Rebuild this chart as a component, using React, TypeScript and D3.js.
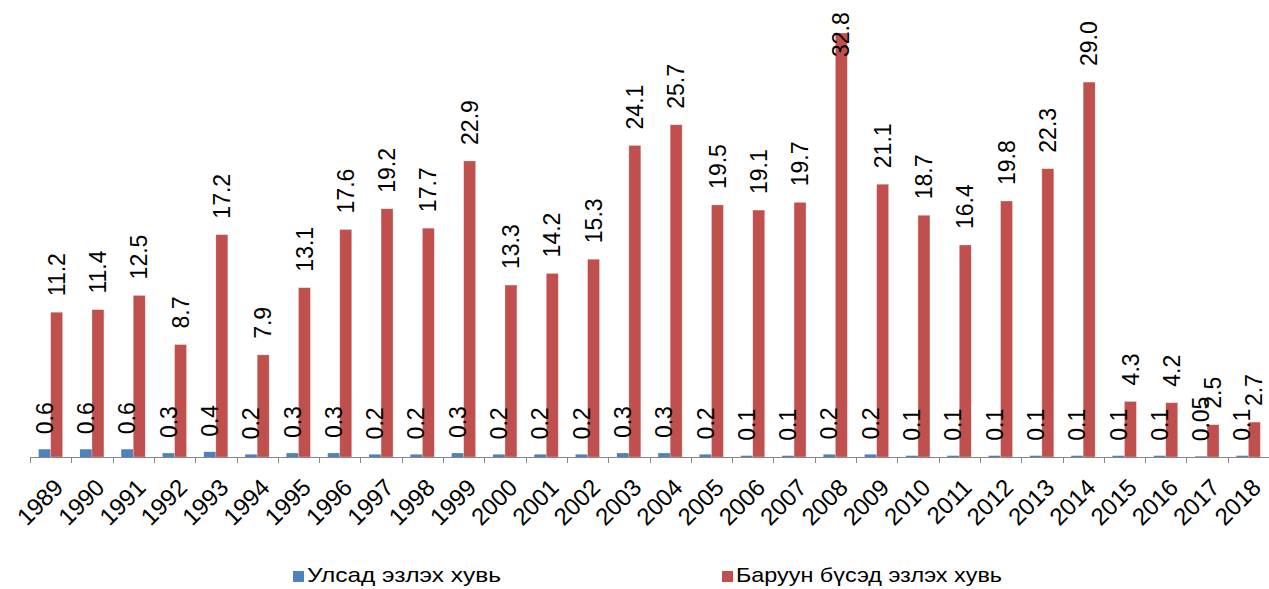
import * as d3 from "d3";
import { useEffect, useRef } from "react";

const years = [
  "1989", "1990", "1991", "1992", "1993", "1994", "1995", "1996", "1997", "1998",
  "1999", "2000", "2001", "2002", "2003", "2004", "2005", "2006", "2007", "2008",
  "2009", "2010", "2011", "2012", "2013", "2014", "2015", "2016", "2017", "2018",
];
const countryShare = [
  0.6, 0.6, 0.6, 0.3, 0.4, 0.2, 0.3, 0.3, 0.2, 0.2,
  0.3, 0.2, 0.2, 0.2, 0.3, 0.3, 0.2, 0.1, 0.1, 0.2,
  0.2, 0.1, 0.1, 0.1, 0.1, 0.1, 0.1, 0.1, 0.05, 0.1,
];
const regionShare = [
  11.2, 11.4, 12.5, 8.7, 17.2, 7.9, 13.1, 17.6, 19.2, 17.7,
  22.9, 13.3, 14.2, 15.3, 24.1, 25.7, 19.5, 19.1, 19.7, 32.8,
  21.1, 18.7, 16.4, 19.8, 22.3, 29.0, 4.3, 4.2, 2.5, 2.7,
];
const countryLabels = [
  "0.6", "0.6", "0.6", "0.3", "0.4", "0.2", "0.3", "0.3", "0.2", "0.2",
  "0.3", "0.2", "0.2", "0.2", "0.3", "0.3", "0.2", "0.1", "0.1", "0.2",
  "0.2", "0.1", "0.1", "0.1", "0.1", "0.1", "0.1", "0.1", "0.05", "0.1",
];
const seriesNames = ["Улсад эзлэх хувь", "Баруун бүсэд эзлэх хувь"];

const BLUE = "#4F81BD";
const RED = "#C0504D";

function draw(node: SVGSVGElement) {
  const width = 1269;
  const marginLeft = 30;
  const marginRight = 0;
  const baseline = 457;

  const svg = d3.select(node);
  svg.selectAll("*").remove();

  const x = d3.scaleBand()
    .domain(years)
    .range([marginLeft, width - marginRight]);

  const y = d3.scaleLinear()
    .domain([0, 35])
    .range([baseline, 4.5]);

  const barW = 12;
  const offset = (x.bandwidth() - barW * 2) / 2;

  const rows = years.map((year, i) => ({
    year,
    country: countryShare[i],
    countryLabel: countryLabels[i],
    region: regionShare[i],
  }));

  // bars
  const g = svg.append("g");
  g.selectAll("rect.country")
    .data(rows)
    .join("rect")
      .attr("x", d => (x(d.year) ?? 0) + offset)
      .attr("y", d => y(d.country))
      .attr("width", barW)
      .attr("height", d => baseline - y(d.country))
      .attr("fill", BLUE);

  g.selectAll("rect.region")
    .data(rows)
    .join("rect")
      .attr("x", d => (x(d.year) ?? 0) + offset + barW)
      .attr("y", d => y(d.region))
      .attr("width", barW)
      .attr("height", d => baseline - y(d.region))
      .attr("fill", RED)
      .attr("stroke", "rgba(255,255,255,0.5)")
      .attr("stroke-width", 0.6);

  // value labels (vertical)
  const font = "Liberation Sans, Arial, sans-serif";
  const labels = svg.append("g")
    .attr("font-family", font)
    .attr("font-size", 23)
    .attr("fill", "#000");

  labels.selectAll("text.country")
    .data(rows)
    .join("text")
      .attr("transform", d => {
        const cx = (x(d.year) ?? 0) + offset + barW / 2;
        return `translate(${cx},${y(d.country) - 15}) rotate(-90)`;
      })
      .attr("dy", "0.35em")
      .text(d => d.countryLabel);

  labels.selectAll("text.region")
    .data(rows)
    .join("text")
      .attr("transform", d => {
        const cx = (x(d.year) ?? 0) + offset + barW * 1.5;
        const ty = Math.max(y(d.region) - 16, 57);
        return `translate(${cx},${ty}) rotate(-90)`;
      })
      .attr("dy", "0.35em")
      .text(d => d.region.toFixed(1));

  // x axis
  const axis = svg.append("g");
  axis.append("line")
    .attr("x1", marginLeft)
    .attr("x2", width)
    .attr("y1", baseline + 0.5)
    .attr("y2", baseline + 0.5)
    .attr("stroke", "#868686");
  axis.selectAll("line.tick")
    .data(years)
    .join("line")
      .attr("x1", d => Math.round(x(d) ?? 0) + 0.5)
      .attr("x2", d => Math.round(x(d) ?? 0) + 0.5)
      .attr("y1", baseline)
      .attr("y2", baseline + 6)
      .attr("stroke", "#868686");
  axis.selectAll("text")
    .data(years)
    .join("text")
      .attr("transform", d => `translate(${(x(d) ?? 0) + x.bandwidth() / 2 + 2},${477}) rotate(-45)`)
      .attr("text-anchor", "end")
      .attr("dy", "0.71em")
      .attr("font-family", font)
      .attr("font-size", 24)
      .text(d => d);

  // legend
  const legend = svg.append("g")
    .attr("font-family", font)
    .attr("font-size", 21);
  const items = [
    { name: seriesNames[0], color: BLUE, x: 293, len: 194 },
    { name: seriesNames[1], color: RED, x: 722, len: 266 },
  ];
  const li = legend.selectAll("g")
    .data(items)
    .join("g")
      .attr("transform", d => `translate(${d.x},0)`);
  li.append("rect")
    .attr("x", 0)
    .attr("y", 571)
    .attr("width", 11)
    .attr("height", 11)
    .attr("fill", d => d.color);
  li.append("text")
    .attr("x", 14)
    .attr("y", 582)
    .attr("textLength", d => d.len)
    .attr("lengthAdjust", "spacingAndGlyphs")
    .text(d => d.name);
}

export default function App() {
  const ref = useRef<SVGSVGElement | null>(null);
  useEffect(() => {
    if (ref.current) draw(ref.current);
  }, []);
  return (
    <svg
      ref={ref}
      width={1269}
      height={589}
      style={{ position: "absolute", left: 0, top: 0, background: "#fff" }}
    />
  );
}
